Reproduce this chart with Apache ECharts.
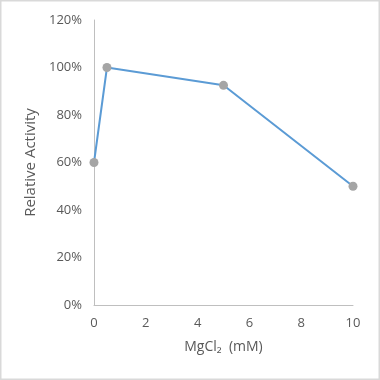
<!DOCTYPE html>
<html>
<head>
<meta charset="utf-8">
<script src="https://cdn.jsdelivr.net/npm/echarts@6/dist/echarts.min.js"></script>
<style>
html,body{margin:0;padding:0;background:#fff;}
#chart{width:380px;height:380px;}
</style>
</head>
<body>
<div id="chart"></div>
<script>
var mgcl2 = [0, 0.5, 5, 10];
var activity = [60, 100, 92.5, 50];
var xTicks = [0, 2, 4, 6, 8, 10];
var yTicks = [0, 20, 40, 60, 80, 100, 120];

var chart = echarts.init(document.getElementById('chart'), null, {renderer: 'canvas'});
var font = '"Open Sans", "Liberation Sans", sans-serif';
var txt = '#595959';
chart.setOption({
  backgroundColor: '#ffffff',
  animation: false,
  graphic: [{
    type: 'rect',
    shape: {x: 0.75, y: 0.75, width: 378.5, height: 378.5},
    style: {fill: 'none', stroke: '#d9d9d9', lineWidth: 1.5},
    silent: true
  }],
  grid: {left: 94, right: 27, top: 20, bottom: 75, containLabel: false},
  xAxis: {
    type: 'value',
    min: xTicks[0], max: xTicks[xTicks.length - 1], interval: 2,
    name: 'MgCl\u2082  (mM)',
    nameLocation: 'middle',
    nameGap: 35,
    nameTextStyle: {color: txt, fontSize: 14, fontFamily: font},
    axisLine: {show: true, lineStyle: {color: '#bfbfbf', width: 1}},
    axisTick: {show: false},
    splitLine: {show: false},
    axisLabel: {color: txt, fontSize: 13, fontFamily: font, margin: 12}
  },
  yAxis: {
    type: 'value',
    min: yTicks[0], max: yTicks[yTicks.length - 1], interval: 20,
    name: 'Relative Activity',
    nameLocation: 'middle',
    nameGap: 52,
    nameRotate: 90,
    nameTextStyle: {color: txt, fontSize: 15, fontFamily: font},
    axisLine: {show: true, lineStyle: {color: '#bfbfbf', width: 1}},
    axisTick: {show: false},
    splitLine: {show: false},
    axisLabel: {color: txt, fontSize: 13, fontFamily: font, margin: 12, formatter: '{value}%'}
  },
  series: [{
    type: 'line',
    data: mgcl2.map(function (x, i) { return [x, activity[i]]; }),
    lineStyle: {color: '#5b9bd5', width: 2},
    itemStyle: {color: '#a5a5a5'},
    symbol: 'circle',
    symbolSize: 9,
    showSymbol: true
  }]
});
</script>
</body>
</html>
